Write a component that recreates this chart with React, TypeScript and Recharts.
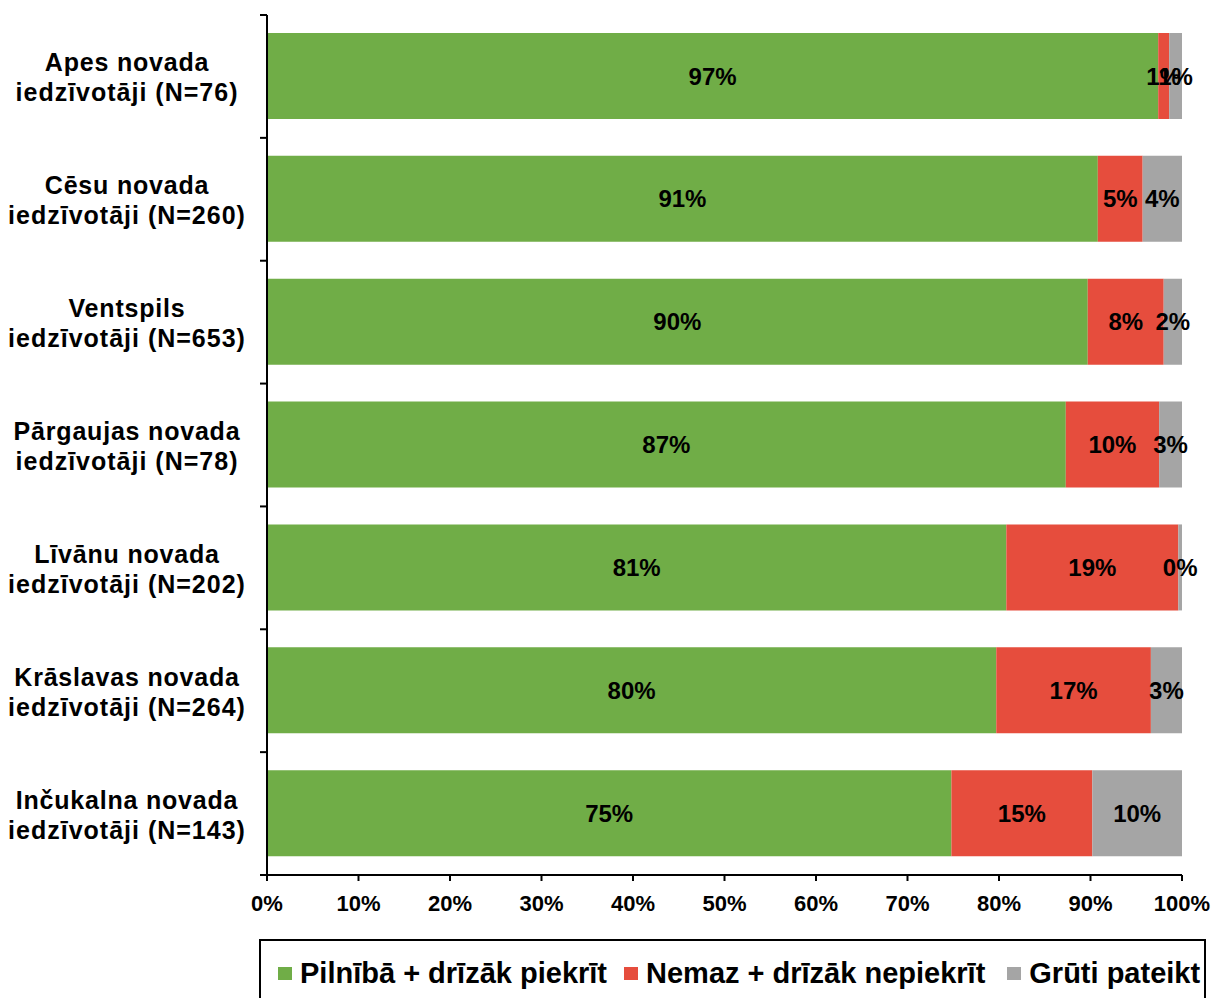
import { BarChart, Bar, XAxis, YAxis, LabelList } from 'recharts';

const categories = [
  'Apes novada\niedzīvotāji (N=76)',
  'Cēsu novada\niedzīvotāji (N=260)',
  'Ventspils\niedzīvotāji (N=653)',
  'Pārgaujas novada\niedzīvotāji (N=78)',
  'Līvānu novada\niedzīvotāji (N=202)',
  'Krāslavas novada\niedzīvotāji (N=264)',
  'Inčukalna novada\niedzīvotāji (N=143)',
];
const agree = [97.4, 90.8, 89.7, 87.3, 80.8, 79.7, 74.8];
const disagree = [1.2, 4.9, 8.3, 10.2, 18.8, 16.9, 15.4];
const hardToSay = [1.4, 4.3, 2.0, 2.5, 0.4, 3.4, 9.8];
const xTicks = [0, 10, 20, 30, 40, 50, 60, 70, 80, 90, 100];

const seriesNames = ['Pilnībā + drīzāk piekrīt', 'Nemaz + drīzāk nepiekrīt', 'Grūti pateikt'];
const colors = ['#70AD47', '#E64D3D', '#A5A5A5'];

const data = categories.map((name, i) => ({
  name,
  agree: agree[i],
  disagree: disagree[i],
  hard: hardToSay[i],
}));

const FONT = '"Liberation Sans", Arial, sans-serif';
const TOP = 15;
const BOTTOM = 875;
const BAND = (BOTTOM - TOP) / categories.length;

const CategoryTick = (props: any) => {
  const { y, payload, index } = props;
  const lines = String(payload.value).split('\n');
  return (
    <g>
      <line x1={260} x2={267} y1={y - BAND / 2} y2={y - BAND / 2} stroke="#000" strokeWidth={2} />
      {index === categories.length - 1 && (
        <line x1={260} x2={267} y1={y + BAND / 2} y2={y + BAND / 2} stroke="#000" strokeWidth={2} />
      )}
      <text
        x={127}
        y={y}
        textAnchor="middle"
        fontFamily={FONT}
        fontWeight="bold"
        fontSize={25}
        fill="#000"
      >
        <tspan x={127} dy={-5} letterSpacing={0.8}>{lines[0]}</tspan>
        <tspan x={127} dy={30} letterSpacing={1.0}>{lines[1]}</tspan>
      </text>
    </g>
  );
};

const fmt = (v: any) => `${Math.round(Number(v))}%`;

export default function App() {
  const keys = ['agree', 'disagree', 'hard'];
  return (
    <div style={{ position: 'absolute', left: 0, top: 0, width: 1212, height: 998, background: '#fff', overflow: 'hidden' }}>
      <BarChart
        width={1212}
        height={998}
        data={data}
        layout="vertical"
        margin={{ top: TOP, right: 30, left: 0, bottom: 83 }}
        barSize={86}
      >
        <XAxis
          type="number"
          domain={[0, 100]}
          ticks={xTicks}
          tickFormatter={(v) => `${v}%`}
          stroke="#000"
          strokeWidth={2}
          tickSize={6}
          tickMargin={14}
          height={40}
          interval={0}
          tick={{ fill: '#000', fontSize: 22, fontWeight: 'bold', fontFamily: FONT }}
        />
        <XAxis
          xAxisId="top"
          orientation="top"
          type="number"
          domain={[0, 100]}
          height={0}
          tick={false}
          tickLine={false}
          stroke="#8c8c8c"
          strokeWidth={2}
        />
        <YAxis
          type="category"
          dataKey="name"
          width={267}
          stroke="#000"
          strokeWidth={2}
          tickLine={false}
          interval={0}
          tick={<CategoryTick />}
        />
        <YAxis
          yAxisId="right"
          orientation="right"
          type="category"
          dataKey="name"
          width={0}
          tick={false}
          tickLine={false}
          stroke="#8c8c8c"
          strokeWidth={2}
        />
        {keys.map((k, i) => (
          <Bar key={k} dataKey={k} name={seriesNames[i]} stackId="s" fill={colors[i]} isAnimationActive={false}>
            <LabelList
              dataKey={k}
              position="center"
              formatter={fmt}
              fill="#000"
              fontSize={24}
              fontWeight="bold"
              fontFamily={FONT}
            />
          </Bar>
        ))}
      </BarChart>
      <div
        style={{
          position: 'absolute',
          left: 259,
          top: 939,
          width: 947,
          height: 80,
          border: '2px solid #000',
          boxSizing: 'border-box',
          fontFamily: FONT,
          fontWeight: 'bold',
          fontSize: 29,
          display: 'flex',
          alignItems: 'flex-start',
          paddingTop: 16,
          paddingLeft: 17,
          whiteSpace: 'nowrap',
        }}
      >
        {seriesNames.map((n, i) => (
          <div key={n} style={{ display: 'flex', alignItems: 'center', marginRight: i === 1 ? 22 : 17 }}>
            <span style={{ display: 'inline-block', width: 14, height: 13, background: colors[i], marginRight: 8 }} />
            <span>{n}</span>
          </div>
        ))}
      </div>
    </div>
  );
}
